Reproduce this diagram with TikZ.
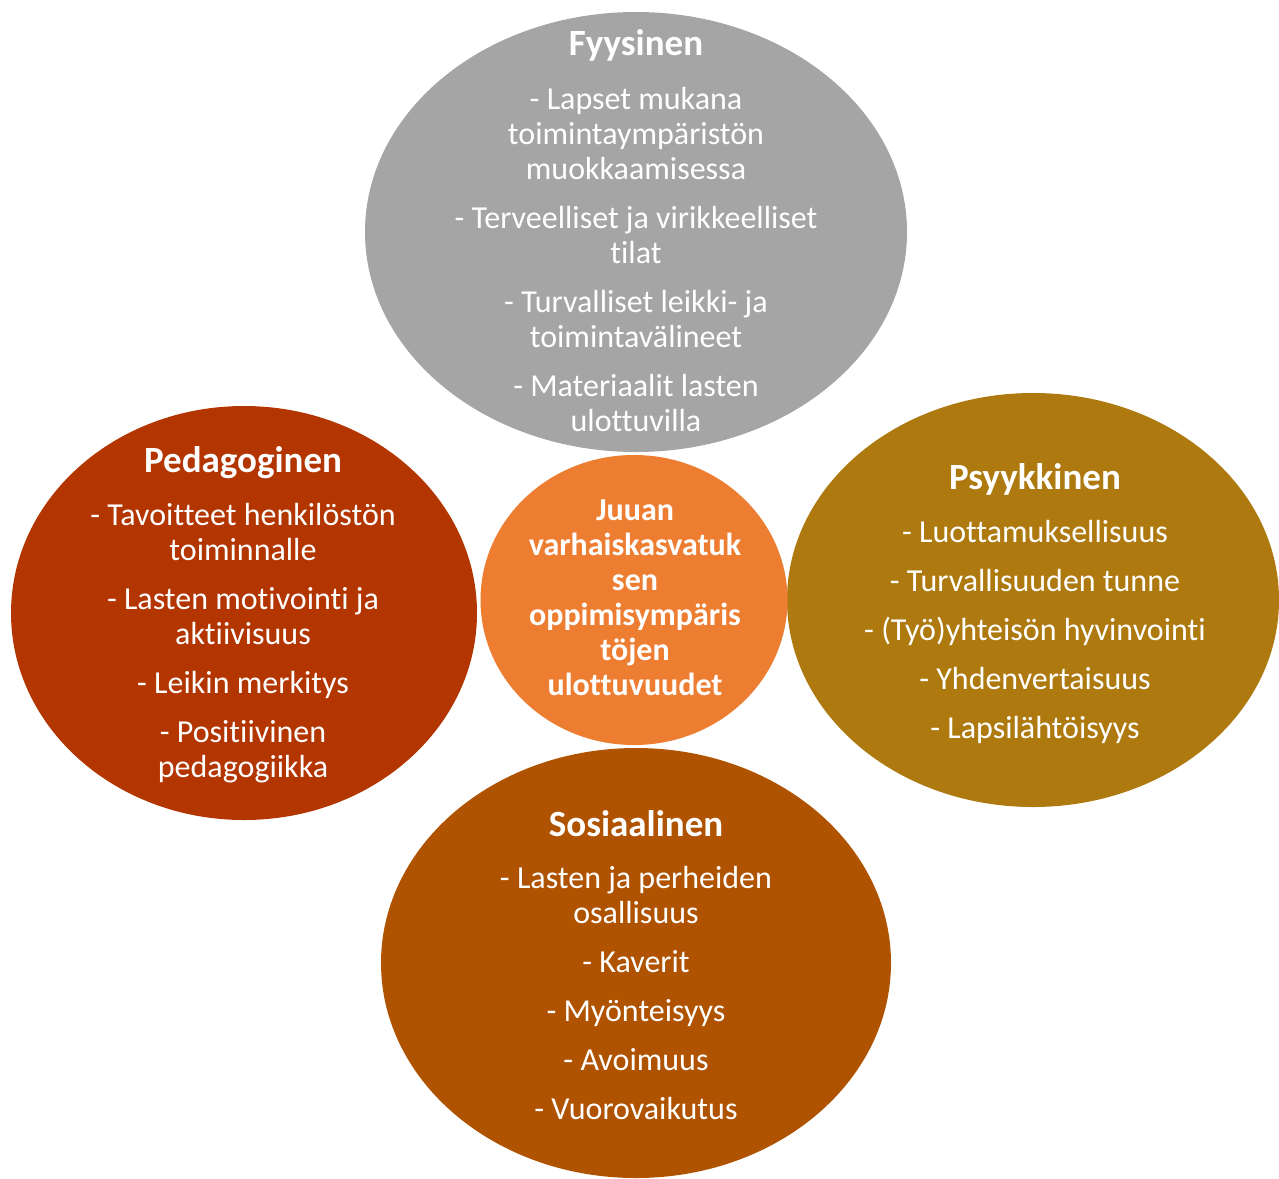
\documentclass[tikz,border=0pt]{standalone}
\usepackage{fontspec}
\setmainfont{Carlito}[Ligatures=NoCommon]
\usetikzlibrary{shapes.geometric}
\definecolor{cgray}{HTML}{A5A5A5}
\definecolor{cred}{HTML}{B33500}
\definecolor{cgold}{HTML}{AE7A0F}
\definecolor{cbrown}{HTML}{AF5300}
\definecolor{corange}{HTML}{ED7D31}
\tikzset{
  blob/.style={ellipse, draw=none, inner sep=0pt},
  body/.style={text=white, align=center, inner sep=0pt, anchor=base,
    font=\fontsize{32}{35}\selectfont},
  ttl/.style={text=white, inner sep=0pt, anchor=base,
    font=\fontsize{37}{35}\selectfont\bfseries},
  ctr/.style={text=white, align=center, inner sep=0pt, anchor=base,
    font=\fontsize{32}{35}\selectfont\bfseries},
}
\begin{document}
\begin{tikzpicture}[x=1pt,y=-1pt]
\useasboundingbox (0,0) rectangle (1279,1178);
% ellipses
\node[blob, fill=cgray, minimum width=542, minimum height=440] (top) at (636,232) {};
\node[blob, fill=cred, minimum width=466, minimum height=414] (left) at (244,613) {};
\node[blob, fill=cgold, minimum width=492, minimum height=414] (right) at (1033,600) {};
\node[blob, fill=cbrown, minimum width=510, minimum height=430] (bottom) at (636,963) {};
\node[blob, fill=corange, minimum width=307, minimum height=290] (center) at (634,600) {};
% titles
\node[ttl] (ttop) at (636,55) {Fyysinen};
\node[ttl] (tleft) at (243,472) {Pedagoginen};
\node[ttl] (tright) at (1035,489) {Psyykkinen};
\node[ttl] (tbottom) at (636,836) {Sosiaalinen};
% bodies (anchor base = last line's baseline)
\node[body] (btop) at (636,431) {- Lapset mukana\\toimintaympäristön\\muokkaamisessa\\[14pt]- Terveelliset ja virikkeelliset\\tilat\\[14pt]- Turvalliset leikki- ja\\toimintavälineet\\[14pt]- Materiaalit lasten\\ulottuvilla};
\node[body] (bleft) at (243,777) {- Tavoitteet henkilöstön\\toiminnalle\\[14pt]- Lasten motivointi ja\\aktiivisuus\\[14pt]- Leikin merkitys\\[14pt]- Positiivinen\\pedagogiikka};
\node[body] (bright) at (1035,738) {- Luottamuksellisuus\\[14pt]- Turvallisuuden tunne\\[14pt]- (Työ)yhteisön hyvinvointi\\[14pt]- Yhdenvertaisuus\\[14pt]- Lapsilähtöisyys};
\node[body] (bbottom) at (636,1119) {- Lasten ja perheiden\\osallisuus\\[14pt]- Kaverit\\[14pt]- Myönteisyys\\[14pt]- Avoimuus\\[14pt]- Vuorovaikutus};
\node[ctr] (bcenter) at (635,695) {Juuan\\varhaiskasvatuk\\sen\\oppimisympäris\\töjen\\ulottuvuudet};
\end{tikzpicture}
\end{document}
